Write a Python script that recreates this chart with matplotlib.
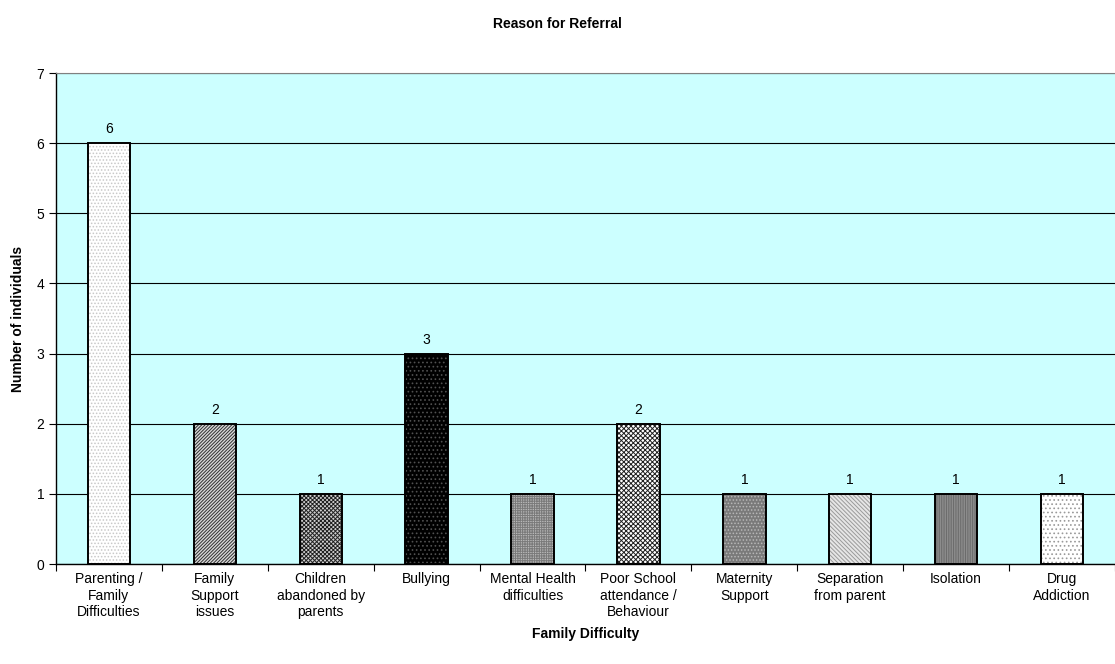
import matplotlib
matplotlib.use('Agg')
import matplotlib.pyplot as plt
import numpy as np

categories = ['Parenting /\nFamily\nDifficulties', 'Family\nSupport\nissues', 'Children\nabandoned by\nparents',
              'Bullying', 'Mental Health\ndifficulties', 'Poor School\nattendance /\nBehaviour',
              'Maternity\nSupport', 'Separation\nfrom parent', 'Isolation', 'Drug\nAddiction']
values = [6, 2, 1, 3, 1, 2, 1, 1, 1, 1]

# fill colour, hatch pattern, hatch colour for each bar
fills = ['white', '#d8d8d8', '#cfcfcf', 'black', '#b8b8b8', 'white', '#7a7a7a', '#e6e6e6', '#8c8c8c', 'white']
hatches = ['.....', '//////////', 'xxxxxxxx', '....', '+++++++', 'xxxxxxx', '.....', '\\\\\\\\\\\\\\\\', '|||||||', '....']
hatch_cols = ['#c8c8c8', '#303030', '#202020', '#505050', '#7a7a7a', '#202020', '#b8b8b8', '#9a9a9a', '#6a6a6a', '#9a9a9a']

plt.rcParams['font.family'] = ['Liberation Sans', 'DejaVu Sans']
plt.rcParams['hatch.linewidth'] = 0.7

fig = plt.figure(figsize=(11.15, 6.64), dpi=100)
ax = fig.add_axes([0.0502, 0.1506, 0.9498, 0.7394])
ax.set_facecolor('#ccffff')

x = np.arange(len(values))
for i in range(len(values)):
    ax.bar(x[i], values[i], width=0.4, color=fills[i], hatch=hatches[i],
           edgecolor=hatch_cols[i], linewidth=0, zorder=3)
    ax.bar(x[i], values[i], width=0.4, fill=False, edgecolor='black', linewidth=1.4, zorder=4)
    ax.text(x[i], values[i] + 0.1, str(values[i]), ha='center', va='bottom', fontsize=10, zorder=5)

ax.set_xlim(-0.5, len(values) - 0.5)
ax.set_ylim(0, 7)
ax.set_yticks(range(0, 8))
ax.yaxis.grid(True, color='black', linewidth=0.8, zorder=1)
ax.set_axisbelow(True)
ax.set_xticks(np.arange(-0.5, len(values), 1), minor=False, labels=[''] * (len(values) + 1))
ax.set_xticks(x, minor=True, labels=categories)
ax.tick_params(axis='x', which='minor', length=0, labelsize=10, pad=6)
ax.tick_params(axis='x', which='major', length=5, color='black')
ax.tick_params(axis='y', labelsize=10, length=5)

ax.spines['top'].set_color('#808080')
ax.spines['right'].set_visible(False)
ax.spines['left'].set_linewidth(1.0)
ax.spines['bottom'].set_linewidth(1.0)

ax.set_ylabel('Number of individuals', fontsize=10, fontweight='bold', labelpad=8)
ax.set_xlabel('Family Difficulty', fontsize=10, fontweight='bold', labelpad=6)
fig.suptitle('Reason for Referral', fontsize=10, fontweight='bold', y=0.975)

fig.savefig('out.png', dpi=100)
